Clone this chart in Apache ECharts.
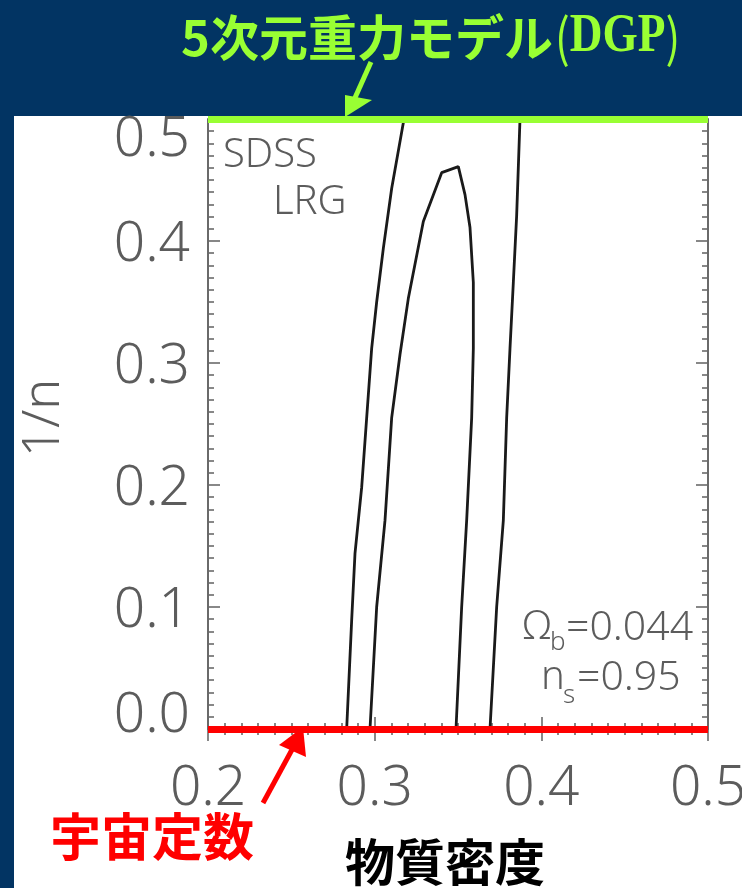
<!DOCTYPE html>
<html>
<head>
<meta charset="utf-8">
<script src="https://cdn.jsdelivr.net/npm/echarts@6/dist/echarts.min.js"></script>
<style>
html,body{margin:0;padding:0;background:#fff;}
#c{width:742px;height:888px;}
</style>
</head>
<body>
<div id="c"></div>
<script>
// ---- data ----
const xTicks = [0.2, 0.3, 0.4, 0.5];
const yTicks = [0.0, 0.1, 0.2, 0.3, 0.4, 0.5];
const outerLeftX = [0.2832, 0.2862, 0.2882, 0.2922, 0.2952, 0.2982, 0.3012, 0.3052, 0.3102, 0.3176];
const outerLeftY = [0.000, 0.089, 0.144, 0.198, 0.255, 0.312, 0.350, 0.394, 0.443, 0.500];
const outerRightX = [0.3692, 0.3732, 0.3772, 0.3792, 0.3812, 0.3832, 0.3852, 0.3872];
const outerRightY = [0.000, 0.100, 0.171, 0.255, 0.312, 0.366, 0.421, 0.500];
const innerX = [0.2972, 0.3012, 0.3062, 0.3102, 0.3152, 0.3202, 0.3292, 0.3402, 0.3502, 0.3542, 0.3572, 0.3592, 0.3592, 0.3582, 0.3552, 0.3522, 0.3488];
const innerY = [0.000, 0.100, 0.171, 0.255, 0.307, 0.353, 0.416, 0.456, 0.461, 0.438, 0.411, 0.366, 0.312, 0.255, 0.171, 0.100, 0.000];
const dgpLevel = 0.5;      // 1/n = 0.5 : DGP model
const lambdaLevel = 0.0;   // 1/n = 0 : cosmological constant
const titleText = '5次元重力モデル';
const titleAbbr = 'DGP';
const lambdaText = '宇宙定数';
const xName = '物質密度';
const yName = '1/n';

const zip = (xs, ys) => xs.map((x, i) => [x, ys[i]]);

const NAVY = '#023463';
const GREEN = '#99ff33';
const AX = '#6a6a6a';
const LBL = '#5c5c5c';
const thinFont = 'Noto Sans';
const TW = 300;
const LFS = 55;

const chart = echarts.init(document.getElementById('c'), null, {renderer: 'canvas'});

const mkTick = () => ({show: true, inside: true, length: 12, lineStyle: {color: AX, width: 1.6}});
const mkMinor = () => ({show: true, splitNumber: 10, length: 6, lineStyle: {color: AX, width: 1.6}});

const option = {
  backgroundColor: '#ffffff',
  animation: false,
  grid: {left: 208, right: 34, top: 119, bottom: 159, containLabel: false, outerBoundsMode: 'none'},
  xAxis: [
    {
      type: 'value', min: 0.2, max: 0.5, interval: 0.1, position: 'bottom',
      axisLine: {show: true, lineStyle: {color: AX, width: 2}},
      axisTick: mkTick(), minorTick: mkMinor(),
      splitLine: {show: false}, minorSplitLine: {show: false},
      axisLabel: {
        margin: 33, fontSize: LFS, fontFamily: thinFont, fontWeight: TW, color: LBL,
        formatter: v => v.toFixed(1), hideOverlap: false
      },
      name: xName, nameLocation: 'middle', nameGap: 108,
      nameTextStyle: {
        fontSize: 50, fontWeight: 'bold', color: '#000',
        fontFamily: 'Noto Sans CJK JP', padding: [0, 26, 0, 0]
      }
    },
    {
      type: 'value', min: 0.2, max: 0.5, interval: 0.1, position: 'top',
      axisLine: {show: true, lineStyle: {color: AX, width: 2}},
      axisTick: mkTick(), minorTick: mkMinor(),
      splitLine: {show: false}, axisLabel: {show: false}
    }
  ],
  yAxis: [
    {
      type: 'value', min: 0, max: 0.5, interval: 0.1, position: 'left',
      axisLine: {show: true, lineStyle: {color: AX, width: 2}},
      axisTick: mkTick(), minorTick: mkMinor(),
      splitLine: {show: false}, minorSplitLine: {show: false},
      axisLabel: {
        margin: 18, fontSize: LFS, fontFamily: thinFont, fontWeight: TW, color: LBL,
        formatter: v => {
          const s = v.toFixed(1);
          if (Math.abs(v - 0.5) < 1e-9) return '{top|' + s + '}';
          if (Math.abs(v) < 1e-9) return '{bot|' + s + '}';
          return '{mid|' + s + '}';
        },
        rich: {
          top: {fontSize: LFS, fontFamily: thinFont, fontWeight: TW, color: LBL, padding: [42, 0, 0, 0]},
          bot: {fontSize: LFS, fontFamily: thinFont, fontWeight: TW, color: LBL, padding: [0, 0, 26, 0]},
          mid: {fontSize: LFS, fontFamily: thinFont, fontWeight: TW, color: LBL, padding: [8, 0, 0, 0]}
        }
      },
      name: yName, nameLocation: 'middle', nameGap: 138, nameRotate: 90,
      nameTextStyle: {fontSize: 52, fontFamily: thinFont, fontWeight: TW, color: LBL, padding: [0, 0, 0, 12]}
    },
    {
      type: 'value', min: 0, max: 0.5, interval: 0.1, position: 'right',
      axisLine: {show: true, lineStyle: {color: AX, width: 2}},
      axisTick: mkTick(), minorTick: mkMinor(),
      splitLine: {show: false}, axisLabel: {show: false}
    }
  ],
  series: [
    {
      type: 'line', name: 'outer-left', data: zip(outerLeftX, outerLeftY),
      symbol: 'none', lineStyle: {color: '#1a1a1a', width: 2.8}, clip: true, z: 3
    },
    {
      type: 'line', name: 'outer-right', data: zip(outerRightX, outerRightY),
      symbol: 'none', lineStyle: {color: '#1a1a1a', width: 2.8}, clip: true, z: 3
    },
    {
      type: 'line', name: 'inner', data: zip(innerX, innerY),
      symbol: 'none', lineStyle: {color: '#1a1a1a', width: 2.8}, clip: true, z: 3
    },
    {
      type: 'line', name: 'levels', data: [], z: 6,
      markLine: {
        silent: true, symbol: 'none', label: {show: false},
        data: [
          {yAxis: dgpLevel, lineStyle: {color: GREEN, width: 7, type: 'solid'}},
          {yAxis: lambdaLevel, lineStyle: {color: '#ff0000', width: 7, type: 'solid'}}
        ]
      }
    }
  ],
  graphic: [
    {type: 'rect', z: 0, shape: {x: 0, y: 0, width: 742, height: 116}, style: {fill: NAVY}},
    {type: 'rect', z: 0, shape: {x: 0, y: 0, width: 14, height: 888}, style: {fill: NAVY}},
    {
      type: 'text', z: 10, x: 181, y: 37,
      style: {
        text: titleText, verticalAlign: 'middle', align: 'left',
        fontSize: 49, fontWeight: 'bold', fontFamily: 'Noto Sans CJK JP', fill: GREEN
      }
    },
    {
      type: 'text', z: 10, x: 555, y: 37, scaleX: 0.84,
      style: {
        text: '{p|(}{b|' + titleAbbr + '}{p|)}',
        verticalAlign: 'middle', align: 'left',
        rich: {
          p: {fontSize: 52, fontWeight: 'normal', fontFamily: 'Noto Sans CJK JP', fill: GREEN},
          b: {fontSize: 54, fontWeight: 'bold', fontFamily: 'Liberation Serif', fill: GREEN}
        }
      }
    },
    // green arrow
    {type: 'line', z: 10, shape: {x1: 371, y1: 62, x2: 354, y2: 100}, style: {stroke: GREEN, lineWidth: 5}},
    {type: 'polygon', z: 10, shape: {points: [[345, 117], [345, 95], [372, 100]]}, style: {fill: GREEN}},
    // red arrow
    {type: 'line', z: 10, shape: {x1: 263, y1: 803, x2: 294, y2: 746}, style: {stroke: '#ff0000', lineWidth: 5}},
    {type: 'polygon', z: 10, shape: {points: [[303, 727], [279, 745], [306, 757]]}, style: {fill: '#ff0000'}},
    {
      type: 'text', z: 10, x: 152, y: 837,
      style: {text: lambdaText, align: 'center', verticalAlign: 'middle',
        fontSize: 51, fontWeight: 'bold', fontFamily: 'Noto Sans CJK JP', fill: '#ff0000'}
    },
    {
      type: 'text', z: 10, x: 223, y: 156,
      style: {text: 'SDSS', align: 'left', verticalAlign: 'middle',
        fontSize: 40, fontFamily: thinFont, fontWeight: TW, fill: LBL}
    },
    {
      type: 'text', z: 10, x: 273, y: 203,
      style: {text: 'LRG', align: 'left', verticalAlign: 'middle',
        fontSize: 40, fontFamily: thinFont, fontWeight: TW, fill: LBL}
    },
    // Omega_b = 0.044
    {type: 'text', z: 10, x: 523, y: 628, style: {text: 'Ω', align: 'left', verticalAlign: 'middle', fontSize: 40, fontFamily: thinFont, fontWeight: TW, fill: LBL}},
    {type: 'text', z: 10, x: 550, y: 643, style: {text: 'b', align: 'left', verticalAlign: 'middle', fontSize: 26, fontFamily: thinFont, fontWeight: TW, fill: LBL}},
    {type: 'text', z: 10, x: 566, y: 628, style: {text: '=0.044', align: 'left', verticalAlign: 'middle', fontSize: 41, fontFamily: thinFont, fontWeight: TW, fill: LBL}},
    // n_s = 0.95
    {type: 'text', z: 10, x: 541, y: 678, style: {text: 'n', align: 'left', verticalAlign: 'middle', fontSize: 40, fontFamily: thinFont, fontWeight: TW, fill: LBL}},
    {type: 'text', z: 10, x: 563, y: 696, style: {text: 's', align: 'left', verticalAlign: 'middle', fontSize: 26, fontFamily: thinFont, fontWeight: TW, fill: LBL}},
    {type: 'text', z: 10, x: 577, y: 678, style: {text: '=0.95', align: 'left', verticalAlign: 'middle', fontSize: 41, fontFamily: thinFont, fontWeight: TW, fill: LBL}}
  ]
};
chart.setOption(option);
</script>
</body>
</html>
